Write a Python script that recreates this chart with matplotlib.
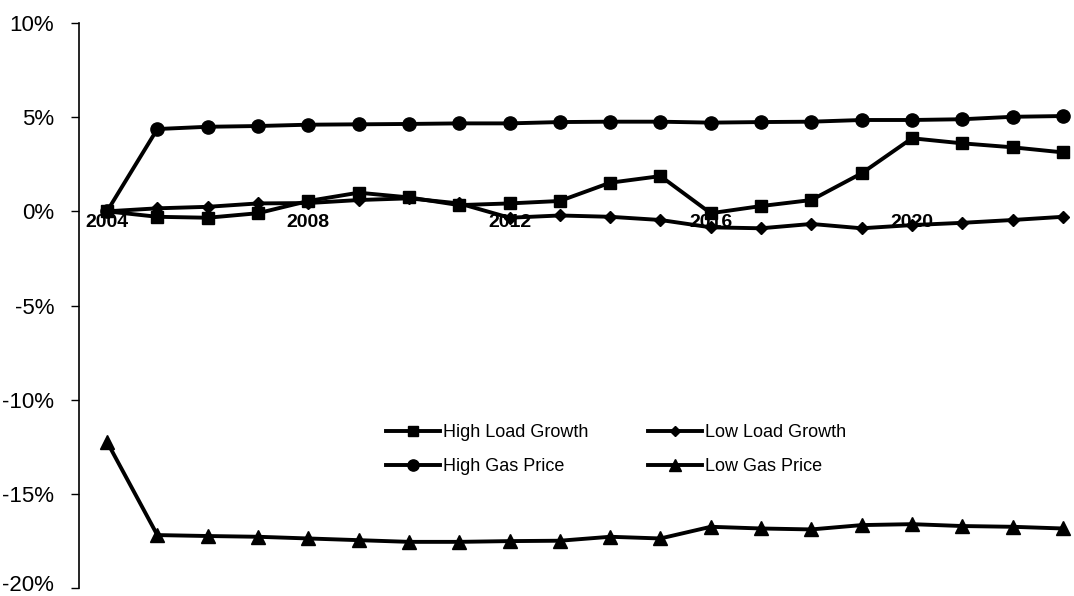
import matplotlib
matplotlib.use("Agg")
import matplotlib.pyplot as plt
from matplotlib.ticker import FuncFormatter
from matplotlib.transforms import ScaledTranslation

plt.rcParams['font.family'] = ['Liberation Sans', 'DejaVu Sans']

years = list(range(2004, 2024))
high_load_growth = [0.0, -0.29, -0.34, -0.10, 0.55, 0.99, 0.74, 0.33, 0.42, 0.55,
                    1.52, 1.87, -0.10, 0.28, 0.60, 2.02, 3.88, 3.61, 3.40, 3.13]
high_gas_price = [0.0, 4.37, 4.49, 4.53, 4.60, 4.62, 4.64, 4.67, 4.67, 4.74,
                  4.76, 4.76, 4.71, 4.74, 4.76, 4.85, 4.85, 4.89, 5.02, 5.06]
low_load_growth = [0.0, 0.16, 0.24, 0.42, 0.44, 0.60, 0.69, 0.42, -0.34, -0.22,
                   -0.29, -0.46, -0.85, -0.90, -0.67, -0.90, -0.73, -0.61, -0.46, -0.29]
low_gas_price = [-12.24, -17.19, -17.24, -17.28, -17.37, -17.46, -17.55, -17.55, -17.51, -17.49,
                 -17.28, -17.37, -16.75, -16.84, -16.89, -16.66, -16.61, -16.71, -16.75, -16.84]
shown_years = ['2004', '2008', '2012', '2016', '2020']
y_ticks = [-20, -15, -10, -5, 0, 5, 10]

W, H = 1074, 596
fig = plt.figure(figsize=(W / 100, H / 100), dpi=100)
ax = fig.add_axes([79 / W, (H - 588) / H, (W - 79) / W, (588 - 23) / H])

x = list(range(len(years)))
lw = 2.8
ax.plot(x, high_load_growth, color='black', lw=lw, marker='s', ms=9, label='High Load Growth')
ax.plot(x, high_gas_price, color='black', lw=lw, marker='o', ms=9.5, label='High Gas Price')
ax.plot(x, low_load_growth, color='black', lw=lw, marker='D', ms=6.5, label='Low Load Growth')
ax.plot(x, low_gas_price, color='black', lw=lw, marker='^', ms=10, label='Low Gas Price')

ax.set_xlim(-0.557, 19.22)
ax.set_ylim(-20, 10)
ax.set_yticks(y_ticks)
ax.yaxis.set_major_formatter(FuncFormatter(lambda v, p: f"{int(v)}%"))
ax.tick_params(axis='y', direction='out', length=6, width=1, pad=12, labelsize=16)

tick_pos = [years.index(int(s)) for s in shown_years]
ax.set_xticks(tick_pos)
ax.set_xticklabels(shown_years)
ax.spines['bottom'].set_position(('data', 0))
ax.spines['bottom'].set_visible(False)
ax.tick_params(axis='x', length=0, pad=2, labelsize=14)
for t in ax.get_xticklabels():
    t.set_fontweight('bold')

ax.spines['top'].set_visible(False)
ax.spines['right'].set_visible(False)
ax.spines['left'].set_linewidth(1.2)

# nudge the bottom y label up slightly so it stays inside the image
fig.canvas.draw()
for t in ax.get_yticklabels():
    if t.get_text() == '-20%':
        t.set_transform(t.get_transform() + ScaledTranslation(0, 5 / 100, fig.dpi_scale_trans))

handles, labels = ax.get_legend_handles_labels()
leg = ax.legend(handles, labels, ncol=2, frameon=False, fontsize=13,
                handlelength=3.0, handletextpad=0.15, columnspacing=3.3,
                labelspacing=0.95, markerscale=0.85,
                loc='upper left', bbox_to_anchor=((370 - 79) / (W - 79), (588 - 408) / (588 - 23)))

fig.savefig('out.png', dpi=100, facecolor='white')
